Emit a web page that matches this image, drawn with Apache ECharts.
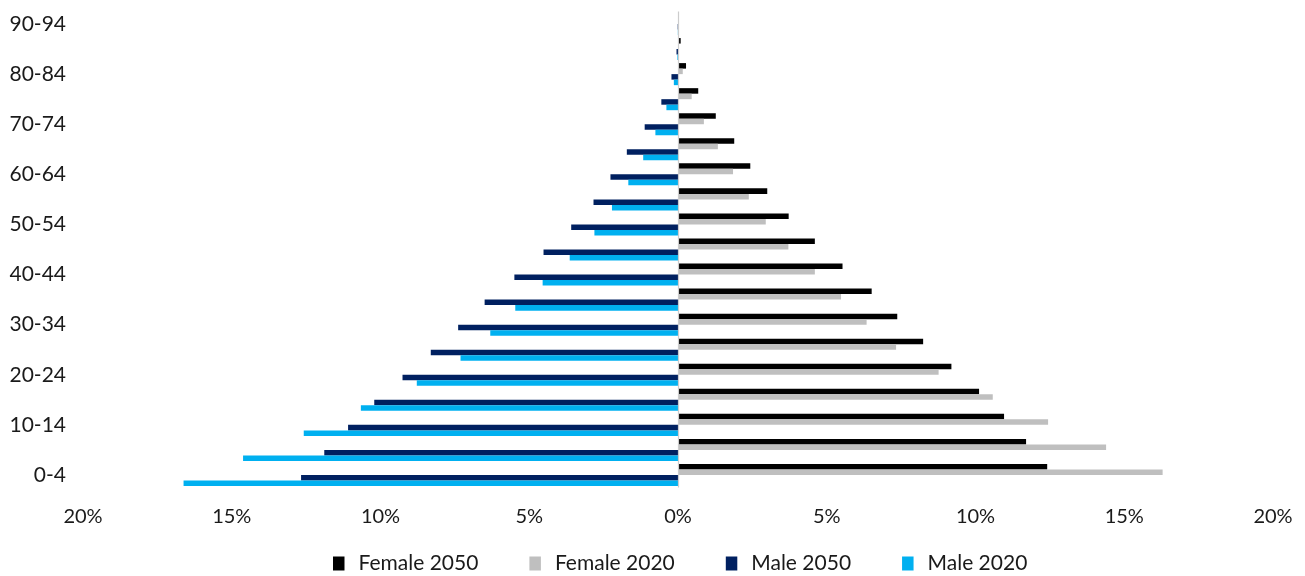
<!DOCTYPE html>
<html>
<head>
<meta charset="utf-8">
<style>
  html, body { margin: 0; padding: 0; background: #ffffff; }
  #chart { width: 1305px; height: 576px; }
</style>
<script src="https://cdn.jsdelivr.net/npm/echarts@6/dist/echarts.min.js"></script>
</head>
<body>
<div id="chart"></div>
<script>
// Age groups, youngest first (bottom of the pyramid)
const ageGroups = ['0-4', '5-9', '10-14', '15-19', '20-24', '25-29', '30-34', '35-39',
  '40-44', '45-49', '50-54', '55-59', '60-64', '65-69', '70-74', '75-79', '80-84',
  '85-89', '90-94'];

// Share of the population in each age group, in percent
const female2050 = [12.41, 11.70, 10.96, 10.12, 9.19, 8.24, 7.37, 6.51, 5.53, 4.60,
  3.72, 3.00, 2.43, 1.89, 1.27, 0.68, 0.27, 0.09, 0.02];
const female2020 = [16.29, 14.39, 12.44, 10.58, 8.76, 7.33, 6.34, 5.48, 4.60, 3.71,
  2.95, 2.38, 1.85, 1.34, 0.87, 0.46, 0.16, 0.03, 0.01];
const male2050 = [12.67, 11.89, 11.09, 10.21, 9.26, 8.31, 7.39, 6.50, 5.50, 4.52,
  3.59, 2.84, 2.27, 1.72, 1.12, 0.56, 0.22, 0.05, 0.01];
const male2020 = [16.62, 14.62, 12.58, 10.66, 8.78, 7.31, 6.31, 5.47, 4.55, 3.64,
  2.81, 2.22, 1.67, 1.17, 0.76, 0.39, 0.14, 0.02, 0.005];

// Axis ticks: -20% .. 20%, printed without sign
const xMin = -20, xMax = 20, xStep = 5;

const FONT = 'Lato';
const TEXT = '#1a1a1a';

const chart = echarts.init(document.getElementById('chart'));

function barSeries(name, values, color, sign) {
  return {
    name: name,
    type: 'bar',
    data: values.map(v => sign * v),
    itemStyle: { color: color },
    barGap: '0%',
    barCategoryGap: '12%',
    silent: true
  };
}

const series = [
  barSeries('Female 2050', female2050, '#000000', 1),
  barSeries('Female 2020', female2020, '#bfbfbf', 1),
  barSeries('Male 2050', male2050, '#002060', -1),
  barSeries('Male 2020', male2020, '#00b0f0', -1)
];

// vertical reference line at 0%
series[0].markLine = {
  silent: true,
  symbol: 'none',
  label: { show: false },
  lineStyle: { color: '#cccccc', width: 1.2, type: 'solid' },
  data: [{ xAxis: 0 }]
};

chart.setOption({
  animation: false,
  backgroundColor: '#ffffff',
  grid: { left: 83, right: 32, top: 11.5, bottom: 88.5, containLabel: false },
  legend: {
    top: 553,
    left: 333,
    padding: 0,
    data: ['Female 2050', 'Female 2020', 'Male 2050', 'Male 2020'],
    icon: 'rect',
    itemWidth: 11.5,
    itemHeight: 14,
    itemGap: 51,
    textStyle: { fontFamily: FONT, fontSize: 21, color: TEXT, padding: [0, 0, 0, 9] }
  },
  xAxis: {
    type: 'value',
    min: xMin,
    max: xMax,
    interval: xStep,
    axisLine: { show: false },
    axisTick: { show: false },
    splitLine: { show: false },
    axisLabel: {
      fontFamily: FONT,
      fontSize: 20,
      color: TEXT,
      margin: 19,
      formatter: v => Math.abs(v) + '%'
    }
  },
  yAxis: {
    type: 'category',
    data: ageGroups,
    axisLine: { show: false, onZero: false },
    axisTick: { show: false },
    splitLine: { show: false },
    axisLabel: {
      fontFamily: FONT,
      fontSize: 21,
      color: TEXT,
      margin: 17,
      interval: 1
    }
  },
  series: series
});
</script>
</body>
</html>
